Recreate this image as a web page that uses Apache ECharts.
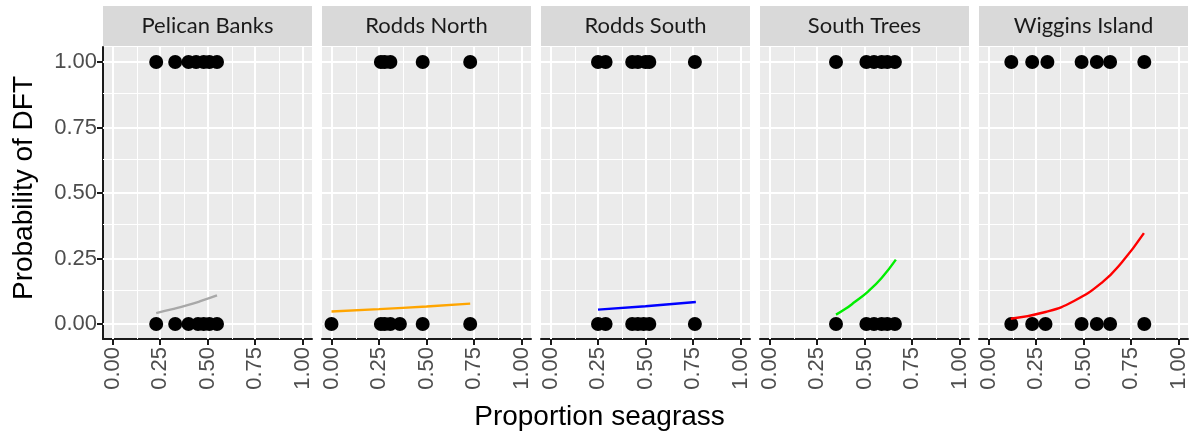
<!DOCTYPE html>
<html>
<head>
<meta charset="utf-8">
<script src="https://cdn.jsdelivr.net/npm/echarts@6/dist/echarts.min.js"></script>
<style>
  html, body { margin: 0; padding: 0; background: #fff; }
  #main { width: 1199px; height: 434px; }
</style>
</head>
<body>
<div id="main"></div>
<script>
// sites (facet strips)
var sites = ['Pelican Banks', 'Rodds North', 'Rodds South', 'South Trees', 'Wiggins Island'];

// proportion seagrass of observations with DFT = 1 and DFT = 0
var pelicanDft1 = [0.23, 0.33, 0.40, 0.44, 0.48, 0.51, 0.55];
var pelicanDft0 = [0.23, 0.33, 0.40, 0.45, 0.48, 0.51, 0.55];
var roddsNorthDft1 = [0.26, 0.28, 0.31, 0.48, 0.73];
var roddsNorthDft0 = [0.00, 0.26, 0.28, 0.31, 0.36, 0.48, 0.73];
var roddsSouthDft1 = [0.25, 0.29, 0.43, 0.46, 0.50, 0.52, 0.76];
var roddsSouthDft0 = [0.25, 0.29, 0.43, 0.46, 0.49, 0.52, 0.76];
var southTreesDft1 = [0.35, 0.51, 0.55, 0.59, 0.62, 0.66];
var southTreesDft0 = [0.35, 0.51, 0.55, 0.59, 0.62, 0.66];
var wigginsDft1 = [0.12, 0.23, 0.31, 0.49, 0.57, 0.64, 0.82];
var wigginsDft0 = [0.12, 0.23, 0.30, 0.49, 0.57, 0.64, 0.82];

// fitted probability curves [proportion, probability]
var pelicanFit = [[0.23, 0.042], [0.31, 0.056], [0.39, 0.071], [0.47, 0.089], [0.55, 0.109]];
var roddsNorthFit = [[0.00, 0.048], [0.25, 0.057], [0.50, 0.067], [0.73, 0.078]];
var roddsSouthFit = [[0.25, 0.055], [0.50, 0.068], [0.765, 0.084]];
var southTreesFit = [[0.35, 0.036], [0.40, 0.058], [0.45, 0.085], [0.52, 0.125], [0.59, 0.176], [0.665, 0.246]];
var wigginsFit = [[0.117, 0.020], [0.30, 0.046], [0.45, 0.088], [0.60, 0.160], [0.70, 0.234], [0.818, 0.347]];

var fitColors = ['#a8a8a8', '#ffa500', '#0000ff', '#00ee00', '#ff0000'];

// axis breaks
var xTicks = [0, 0.25, 0.5, 0.75, 1];
var yTicks = [0, 0.25, 0.5, 0.75, 1];
var minorBreaks = [0.125, 0.375, 0.625, 0.875];

var dft1 = [pelicanDft1, roddsNorthDft1, roddsSouthDft1, southTreesDft1, wigginsDft1];
var dft0 = [pelicanDft0, roddsNorthDft0, roddsSouthDft0, southTreesDft0, wigginsDft0];
var fits = [pelicanFit, roddsNorthFit, roddsSouthFit, southTreesFit, wigginsFit];

var myChart = echarts.init(document.getElementById('main'));

var panelTop = 47, panelHeight = 292, panelWidth = 209;
var grids = [], xAxes = [], yAxes = [], series = [], graphics = [];

for (var i = 0; i < sites.length; i++) {
  var left = 103 + i * 219;
  grids.push({
    left: left, top: panelTop, width: panelWidth, height: panelHeight,
    show: true, backgroundColor: '#ebebeb', borderWidth: 0
  });
  xAxes.push({
    gridIndex: i, type: 'value', min: -0.05, max: 1.05,
    axisLine: { show: true, onZero: false, lineStyle: { color: '#1a1a1a', width: 2 } },
    axisTick: { show: true, customValues: xTicks, length: 6, lineStyle: { color: '#1a1a1a', width: 2 } },
    axisLabel: {
      customValues: xTicks, rotate: 90, margin: 8,
      formatter: function (v) { return v.toFixed(2); },
      fontSize: 22, color: '#4d4d4d', fontFamily: 'Liberation Sans'
    },
    splitLine: { show: false }
  });
  yAxes.push({
    gridIndex: i, type: 'value', min: -0.057, max: 1.057,
    axisLine: { show: i === 0, onZero: false, lineStyle: { color: '#1a1a1a', width: 2 } },
    axisTick: { show: i === 0, customValues: yTicks, length: 6, lineStyle: { color: '#1a1a1a', width: 2 } },
    axisLabel: {
      show: i === 0, customValues: yTicks, margin: 6,
      formatter: function (v) { return v.toFixed(2); },
      fontSize: 22, color: '#4d4d4d', fontFamily: 'Liberation Sans'
    },
    splitLine: { show: false }
  });

  // panel grid lines
  var lines = [];
  minorBreaks.forEach(function (b) {
    lines.push({ xAxis: b, lineStyle: { color: '#fff', width: 1, type: 'solid' } });
    lines.push({ yAxis: b, lineStyle: { color: '#fff', width: 1, type: 'solid' } });
  });
  xTicks.forEach(function (b) {
    lines.push({ xAxis: b, lineStyle: { color: '#fff', width: 2, type: 'solid' } });
  });
  yTicks.forEach(function (b) {
    lines.push({ yAxis: b, lineStyle: { color: '#fff', width: 2, type: 'solid' } });
  });
  series.push({
    type: 'line', xAxisIndex: i, yAxisIndex: i, data: [], z: 1, silent: true,
    markLine: { z: 1, silent: true, symbol: 'none', label: { show: false }, animation: false, data: lines }
  });

  var pts = [];
  dft1[i].forEach(function (x) { pts.push([x, 1]); });
  dft0[i].forEach(function (x) { pts.push([x, 0]); });
  series.push({
    type: 'scatter', xAxisIndex: i, yAxisIndex: i, data: pts, z: 6,
    symbol: 'circle', symbolSize: 14, itemStyle: { color: '#000', opacity: 1 }, animation: false
  });
  series.push({
    type: 'line', xAxisIndex: i, yAxisIndex: i, data: fits[i], z: 7,
    smooth: true, showSymbol: false, lineStyle: { color: fitColors[i], width: 2.4 }, animation: false
  });

  graphics.push({
    type: 'rect',
    shape: { x: left, y: 6, width: panelWidth, height: 40 },
    style: { fill: '#d9d9d9' },
    textContent: { style: { text: sites[i], fontSize: 22, fill: '#1a1a1a', fontFamily: 'Lato' } },
    textConfig: { position: 'inside' }
  });
}

graphics.push({
  type: 'text', left: 'center', top: 403,
  style: { text: 'Proportion seagrass', fontSize: 28, fill: '#000', fontFamily: 'Liberation Sans' }
});
graphics.push({
  type: 'text', x: 10, y: 188, rotation: Math.PI / 2,
  style: { text: 'Probability of DFT', fontSize: 28, fill: '#000', fontFamily: 'Liberation Sans', align: 'center', verticalAlign: 'top' }
});

var option = {
  backgroundColor: '#fff',
  animation: false,
  grid: grids,
  xAxis: xAxes,
  yAxis: yAxes,
  graphic: graphics,
  series: series
};
myChart.setOption(option);
</script>
</body>
</html>
